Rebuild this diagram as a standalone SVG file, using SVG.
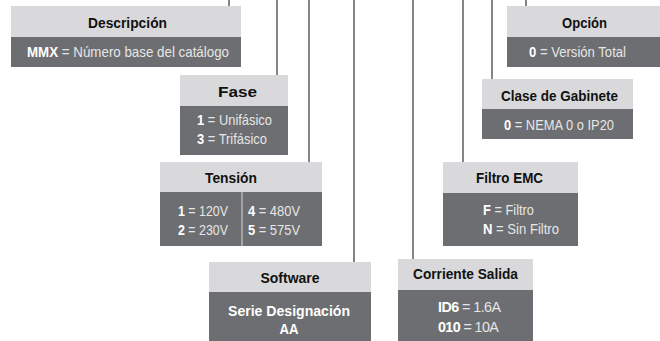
<svg xmlns="http://www.w3.org/2000/svg" width="660" height="341" viewBox="0 0 660 341">
<style>
.hd{fill:#d9d9db}
.bd{fill:#6d6e71}
.ht{font-family:"Liberation Sans",Arial,sans-serif;font-weight:bold;font-size:15px;fill:#111;text-anchor:middle}
.bt{font-family:"Liberation Sans",Arial,sans-serif;font-size:14.3px;fill:#e6e6e6}
.c{text-anchor:middle}
.b{font-weight:bold;fill:#fff}
.ln{stroke:#333;stroke-width:1.2;fill:none}
</style>
<rect width="660" height="341" fill="#fff"/>
<g id="connectors">
<line class="ln" x1="229" y1="0" x2="229" y2="6"/>
<line class="ln" x1="277" y1="0" x2="277" y2="75"/>
<line class="ln" x1="309" y1="0" x2="309" y2="162"/>
<line class="ln" x1="354" y1="0" x2="354" y2="262"/>
<line class="ln" x1="413" y1="0" x2="413" y2="259"/>
<line class="ln" x1="463" y1="0" x2="463" y2="162"/>
<line class="ln" x1="492" y1="0" x2="492" y2="79"/>
<line class="ln" x1="526" y1="0" x2="526" y2="6"/>
</g>
<g id="descripcion">
<rect class="hd" x="11" y="6" width="230" height="31"/>
<rect class="bd" x="11" y="37" width="230" height="30"/>
<text class="ht" x="127.5" y="28" textLength="79" lengthAdjust="spacingAndGlyphs">Descripción</text>
<text class="bt c" x="128" y="57" textLength="202" lengthAdjust="spacingAndGlyphs"><tspan class="b">MMX</tspan> = Número base del catálogo</text>
</g>
<g id="fase">
<rect class="hd" x="180" y="75" width="108" height="31"/>
<rect class="bd" x="180" y="106" width="108" height="49"/>
<text class="ht" x="237.5" y="97" textLength="39" lengthAdjust="spacingAndGlyphs">Fase</text>
<text class="bt" x="197" y="125" textLength="75" lengthAdjust="spacingAndGlyphs"><tspan class="b">1</tspan> = Unifásico</text>
<text class="bt" x="197" y="144" textLength="70" lengthAdjust="spacingAndGlyphs"><tspan class="b">3</tspan> = Trifásico</text>
</g>
<g id="tension">
<rect class="hd" x="160" y="162" width="162" height="30"/>
<rect class="bd" x="160" y="192" width="162" height="54"/>
<line x1="242" y1="192" x2="242" y2="246" stroke="#d9d9db" stroke-width="1"/>
<text class="ht" x="231" y="183" textLength="52" lengthAdjust="spacingAndGlyphs">Tensión</text>
<text class="bt" x="178" y="216" textLength="50" lengthAdjust="spacingAndGlyphs"><tspan class="b">1</tspan> = 120V</text>
<text class="bt" x="178" y="235" textLength="50" lengthAdjust="spacingAndGlyphs"><tspan class="b">2</tspan> = 230V</text>
<text class="bt" x="248" y="216" textLength="52" lengthAdjust="spacingAndGlyphs"><tspan class="b">4</tspan> = 480V</text>
<text class="bt" x="248" y="235" textLength="52" lengthAdjust="spacingAndGlyphs"><tspan class="b">5</tspan> = 575V</text>
</g>
<g id="software">
<rect class="hd" x="209" y="262" width="162" height="30"/>
<rect class="bd" x="209" y="292" width="162" height="49"/>
<text class="ht" x="290" y="283" textLength="59" lengthAdjust="spacingAndGlyphs">Software</text>
<text class="bt c b" x="289" y="316" textLength="122" lengthAdjust="spacingAndGlyphs">Serie Designación</text>
<text class="bt c b" x="289" y="334" textLength="19" lengthAdjust="spacingAndGlyphs">AA</text>
</g>
<g id="corriente">
<rect class="hd" x="398" y="259" width="135" height="31"/>
<rect class="bd" x="398" y="290" width="135" height="51"/>
<text class="ht" x="465.5" y="279" textLength="105" lengthAdjust="spacingAndGlyphs">Corriente Salida</text>
<text class="bt" x="438" y="312" font-size="14" letter-spacing="-0.55"><tspan class="b">ID6</tspan> = 1.6A</text>
<text class="bt" x="438" y="332" font-size="14" letter-spacing="-0.6"><tspan class="b">010</tspan> = 10A</text>
</g>
<g id="filtro">
<rect class="hd" x="443" y="162" width="135" height="31"/>
<rect class="bd" x="443" y="193" width="135" height="53"/>
<text class="ht" x="509.5" y="183.3" textLength="67" lengthAdjust="spacingAndGlyphs">Filtro EMC</text>
<text class="bt" x="483" y="215" textLength="51" lengthAdjust="spacingAndGlyphs"><tspan class="b">F</tspan> = Filtro</text>
<text class="bt" x="483" y="234" textLength="76" lengthAdjust="spacingAndGlyphs"><tspan class="b">N</tspan> = Sin Filtro</text>
</g>
<g id="gabinete">
<rect class="hd" x="482" y="79" width="151" height="30"/>
<rect class="bd" x="482" y="109" width="151" height="30"/>
<text class="ht" x="559.5" y="100.5" textLength="117" lengthAdjust="spacingAndGlyphs">Clase de Gabinete</text>
<text class="bt c" x="559" y="129.5" textLength="110" lengthAdjust="spacingAndGlyphs"><tspan class="b">0</tspan> = NEMA 0 o IP20</text>
</g>
<g id="opcion">
<rect class="hd" x="507" y="6" width="153" height="31"/>
<rect class="bd" x="507" y="37" width="153" height="30"/>
<text class="ht" x="584.5" y="27.5" textLength="45" lengthAdjust="spacingAndGlyphs">Opción</text>
<text class="bt c" x="577.5" y="57" textLength="97" lengthAdjust="spacingAndGlyphs"><tspan class="b">0</tspan> = Versión Total</text>
</g>
</svg>
